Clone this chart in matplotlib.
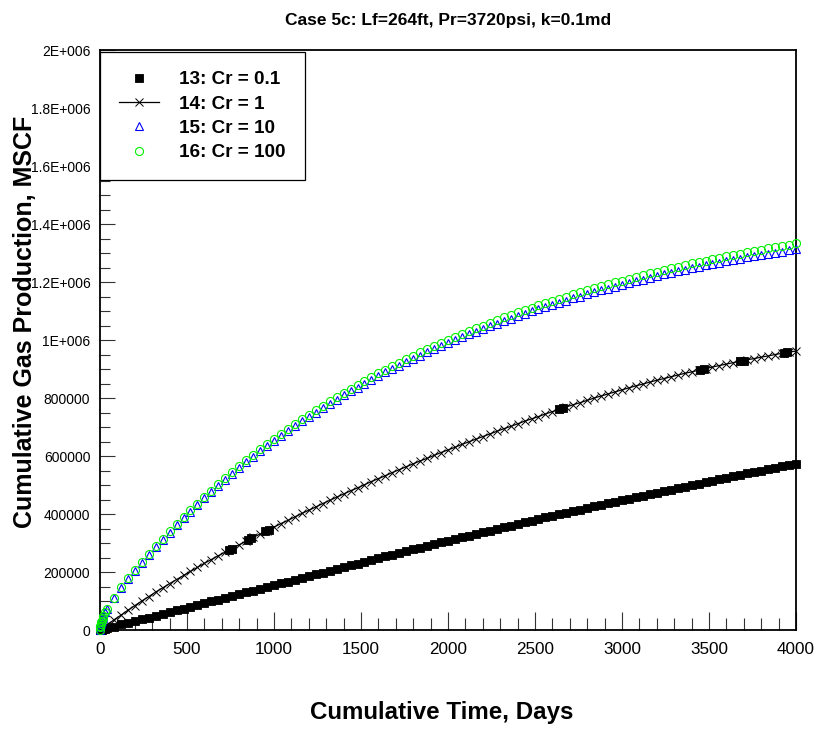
import matplotlib
matplotlib.use("Agg")
import matplotlib.pyplot as plt
from matplotlib.ticker import MultipleLocator, FixedLocator, FixedFormatter

plt.rcParams['font.family'] = ['Liberation Sans', 'DejaVu Sans']

# Time steps (days) shared by all runs
days = [0, 1, 2, 4, 7, 10, 15, 20, 30,
        40, 80, 120, 160, 200, 240, 280, 320, 360, 400,
        440, 480, 520, 560, 600, 640, 680, 720, 760, 800,
        840, 880, 920, 960, 1000, 1040, 1080, 1120, 1160, 1200,
        1240, 1280, 1320, 1360, 1400, 1440, 1480, 1520, 1560, 1600,
        1640, 1680, 1720, 1760, 1800, 1840, 1880, 1920, 1960, 2000,
        2040, 2080, 2120, 2160, 2200, 2240, 2280, 2320, 2360, 2400,
        2440, 2480, 2520, 2560, 2600, 2640, 2680, 2720, 2760, 2800,
        2840, 2880, 2920, 2960, 3000, 3040, 3080, 3120, 3160, 3200,
        3240, 3280, 3320, 3360, 3400, 3440, 3480, 3520, 3560, 3600,
        3640, 3680, 3720, 3760, 3800, 3840, 3880, 3920, 3960, 4000]

# Cumulative gas production, thousands of MSCF
cr01_kmscf = [0, 0.2, 0.3, 0.6, 1.1, 1.6, 2.3, 3.1, 4.7,
              6, 12, 19, 25, 31, 37, 43, 50, 56, 62,
              68, 74, 81, 87, 93, 99, 105, 112, 118, 124,
              130, 136, 143, 149, 155, 161, 167, 174, 180, 186,
              192, 198, 205, 211, 217, 223, 229, 235, 241, 248,
              254, 260, 266, 272, 278, 284, 290, 296, 302, 308,
              313, 319, 325, 331, 337, 342, 348, 354, 360, 365,
              371, 376, 382, 388, 393, 399, 404, 410, 415, 420,
              426, 431, 437, 442, 447, 452, 458, 463, 468, 473,
              479, 484, 489, 494, 499, 504, 509, 514, 520, 525,
              530, 535, 540, 545, 550, 555, 559, 564, 569, 574]

# extra Cr = 0.1 records logged at these times
cr01_extra_days = [740, 760, 850, 870, 950, 970, 2640, 2660,
                   3450, 3470, 3680, 3700, 3930, 3950]
cr01_extra_kmscf = [275, 281, 309, 316, 340, 346, 761, 765,
                    897, 900, 927, 929, 955, 957]

cr1_kmscf = [0, 0.4, 0.9, 1.8, 3.1, 4.4, 6.6, 8.8, 13.2,
             17, 35, 51, 68, 84, 100, 115, 131, 145, 160,
             174, 188, 202, 216, 230, 243, 256, 269, 281, 294,
             306, 319, 331, 343, 355, 367, 378, 390, 402, 413,
             424, 436, 447, 458, 469, 480, 490, 501, 512, 522,
             532, 543, 553, 563, 573, 583, 592, 602, 612, 621,
             630, 640, 649, 658, 667, 676, 685, 694, 702, 711,
             720, 728, 736, 745, 753, 761, 769, 777, 784, 792,
             800, 807, 814, 821, 828, 835, 842, 848, 855, 861,
             867, 873, 879, 885, 890, 896, 901, 907, 912, 917,
             922, 927, 932, 936, 941, 945, 950, 954, 958, 962]

cr10_kmscf = [0, 9.3, 13.4, 19.4, 26.3, 32.2, 40.5, 47.7, 60.7,
              72, 111, 145, 176, 205, 232, 260, 286, 311, 336,
              361, 385, 408, 431, 454, 476, 497, 518, 539, 559,
              579, 598, 616, 634, 653, 670, 687, 703, 719, 735,
              750, 765, 780, 794, 809, 823, 836, 850, 862, 875,
              888, 900, 911, 923, 935, 946, 958, 968, 978, 989,
              999, 1009, 1019, 1029, 1038, 1047, 1056, 1065, 1073, 1082,
              1090, 1099, 1107, 1113, 1121, 1129, 1136, 1144, 1150, 1157,
              1164, 1171, 1177, 1184, 1190, 1196, 1202, 1208, 1214, 1220,
              1226, 1231, 1237, 1241, 1247, 1252, 1257, 1262, 1266, 1271,
              1276, 1280, 1285, 1289, 1293, 1297, 1301, 1305, 1309, 1313]

cr100_kmscf = [0, 9.4, 13.5, 19.6, 26.6, 32.5, 40.9, 48.2, 61.3,
               73, 112, 147, 178, 207, 235, 263, 289, 315, 340,
               365, 389, 413, 436, 459, 481, 503, 524, 545, 565,
               585, 604, 623, 641, 660, 677, 694, 711, 727, 743,
               758, 774, 789, 803, 818, 832, 845, 859, 872, 885,
               898, 910, 922, 934, 946, 957, 969, 980, 990, 1001,
               1011, 1021, 1031, 1041, 1050, 1060, 1069, 1078, 1086, 1095,
               1103, 1112, 1120, 1127, 1135, 1143, 1150, 1158, 1165, 1172,
               1179, 1186, 1192, 1199, 1205, 1212, 1218, 1224, 1230, 1236,
               1242, 1247, 1253, 1258, 1264, 1269, 1274, 1279, 1284, 1289,
               1294, 1298, 1303, 1308, 1312, 1316, 1321, 1325, 1329, 1333]

labels = ["13: Cr = 0.1", "14: Cr = 1", "15: Cr = 10", "16: Cr = 100"]
y_ticks = [0, 200000, 400000, 600000, 800000, 1000000, 1200000,
           1400000, 1600000, 1800000, 2000000]
y_tick_labels = ["0", "200000", "400000", "600000", "800000", "1E+006",
                 "1.2E+006", "1.4E+006", "1.6E+006", "1.8E+006", "2E+006"]
x_ticks = [0, 500, 1000, 1500, 2000, 2500, 3000, 3500, 4000]

K = 1000.0

fig = plt.figure(figsize=(8.17, 7.29), dpi=100)
ax = fig.add_axes([100 / 817, 1 - 630 / 729, 696 / 817, 580 / 729])

sq_days = days + cr01_extra_days
sq_vals = [v * K for v in cr01_kmscf + cr01_extra_kmscf]
ax.plot(sq_days, sq_vals, linestyle='none', marker='s', markersize=6,
        color='black', markeredgewidth=0.6, label=labels[0], clip_on=False, zorder=3)
ax.plot(days, [v * K for v in cr1_kmscf], linestyle='-', linewidth=0.9,
        color='black', marker='x', markersize=6.3, markeredgewidth=0.7,
        label=labels[1], clip_on=False, zorder=4)
ax.plot(days, [v * K for v in cr10_kmscf], linestyle='none', marker='^',
        markersize=5.2, markerfacecolor='none', markeredgecolor='#0000ff',
        markeredgewidth=0.8, label=labels[2], clip_on=False, zorder=5)
ax.plot(days, [v * K for v in cr100_kmscf], linestyle='none', marker='o',
        markersize=5.8, markerfacecolor='none', markeredgecolor='#00ee00',
        markeredgewidth=0.8, label=labels[3], clip_on=False, zorder=6)

ax.set_xlim(0, 4000)
ax.set_ylim(0, 2000000)

ax.xaxis.set_major_locator(FixedLocator(x_ticks))
ax.xaxis.set_minor_locator(MultipleLocator(100))
ax.yaxis.set_major_locator(FixedLocator(y_ticks))
ax.yaxis.set_major_formatter(FixedFormatter(y_tick_labels))
ax.yaxis.set_minor_locator(MultipleLocator(50000))

ax.tick_params(axis='x', which='major', direction='in', length=13, width=0.8,
               color='#333333', labelsize=12.3, pad=9)
ax.tick_params(axis='x', which='minor', direction='in', length=8.5, width=0.8,
               color='#333333')
ax.tick_params(axis='y', which='major', direction='in', length=11, width=0.8,
               color='#333333', labelsize=10, pad=7)
ax.tick_params(axis='y', which='minor', direction='in', length=7, width=0.8,
               color='#333333')
ax.tick_params(top=False, right=False, which='both')

for side in ['left', 'bottom', 'right', 'top']:
    ax.spines[side].set_linewidth(1.3)
    ax.spines[side].set_color('black')

leg = ax.legend(loc='upper left', bbox_to_anchor=(0, 1 - 2 / 580),
                borderaxespad=0, numpoints=1, handlelength=2.1,
                handletextpad=1.1, labelspacing=0.38, borderpad=1.0,
                fancybox=False, framealpha=1,
                prop={'weight': 'bold', 'size': 13.6})
leg.get_frame().set_edgecolor('black')
leg.get_frame().set_linewidth(0.9)
leg.set_zorder(10)

fig.text(448 / 817, 1 - 20 / 729, "Case 5c: Lf=264ft, Pr=3720psi, k=0.1md",
         ha='center', va='center', fontsize=12.5, fontweight='bold')
fig.text(25 / 817, 1 - 322 / 729, "Cumulative Gas Production, MSCF",
         ha='center', va='center', rotation=90, fontsize=18, fontweight='bold')
fig.text(442 / 817, 1 - 712 / 729, "Cumulative Time, Days",
         ha='center', va='center', fontsize=17.4, fontweight='bold')

fig.savefig("out.png", dpi=100)
